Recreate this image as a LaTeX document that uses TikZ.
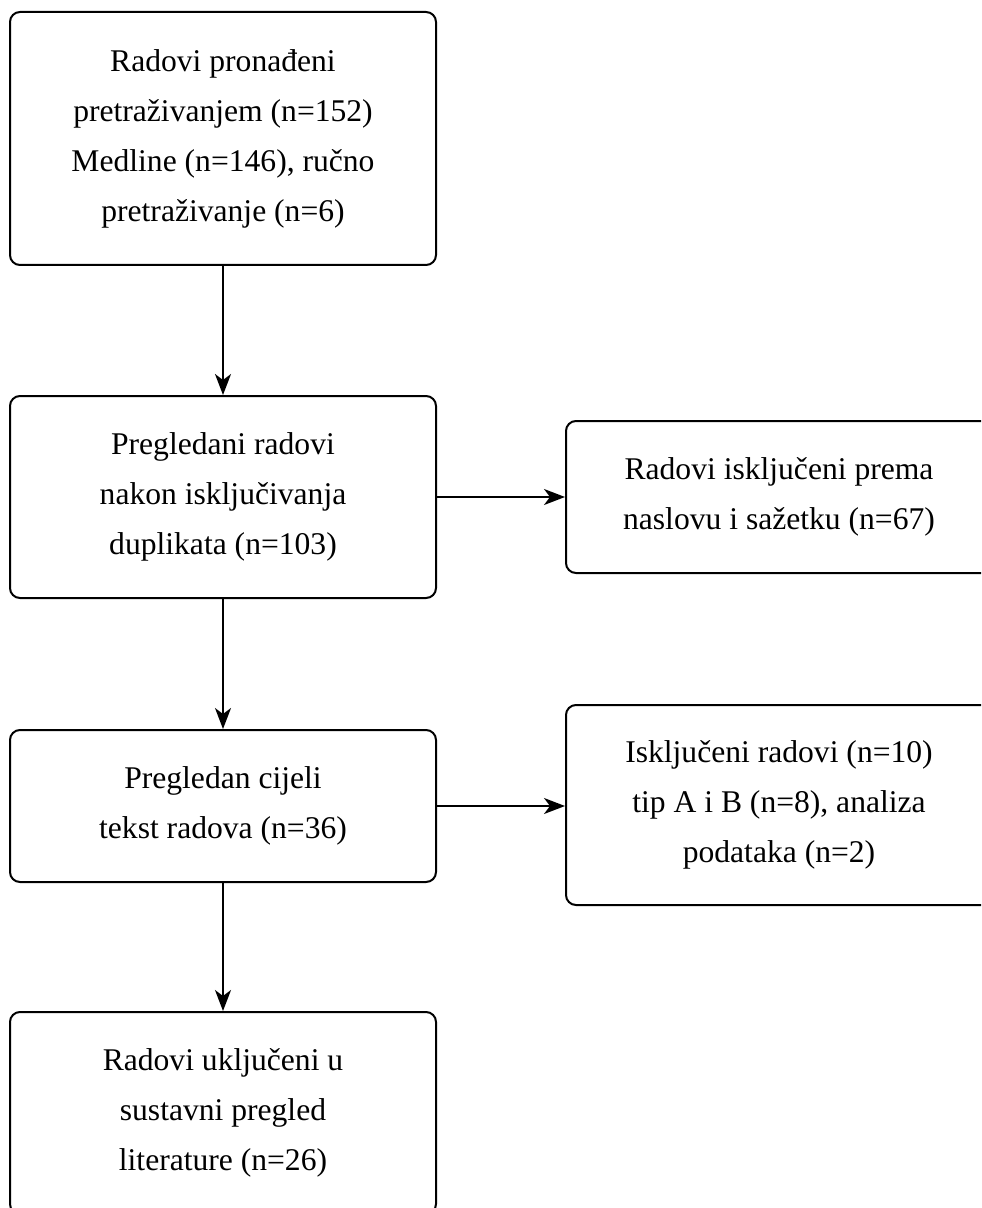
\documentclass[tikz,border=0pt]{standalone}
\usepackage{fontspec}
\setmainfont{Liberation Serif}
\usetikzlibrary{arrows.meta}
\begin{document}
\begin{tikzpicture}[x=0.5pt,y=-0.5pt,
  box/.style={draw, line width=1pt, rounded corners=5pt, align=center, inner sep=0pt,
    minimum width=213pt, font=\fontsize{15.8}{25}\selectfont},
  arr/.style={line width=1pt, -{Stealth[length=10.5pt,width=8pt,inset=3pt]}}]
\useasboundingbox (0,0) rectangle (981,1208);
\clip (0,0) rectangle (981,1208);
\node[box, minimum height=126.5pt] (b1) at (223,138.5) {Radovi pronađeni\\pretraživanjem (n=152)\\Medline (n=146), ručno\\pretraživanje (n=6)};
\node[box, minimum height=101pt] (b2) at (223,497) {Pregledani radovi\\nakon isključivanja\\duplikata (n=103)};
\node[box, minimum height=76pt] (b3) at (223,806) {Pregledan cijeli\\tekst radova (n=36)};
\node[box, minimum height=101pt] (b4) at (223,1113) {Radovi uključeni u\\sustavni pregled\\literature (n=26)};
\node[box, minimum height=76pt] (r1) at (779,497) {Radovi isključeni prema\\naslovu i sažetku (n=67)};
\node[box, minimum height=100pt] (r2) at (779,805) {Isključeni radovi (n=10)\\tip A i B (n=8), analiza\\podataka (n=2)};
\draw[arr] (b1) -- (b2);
\draw[arr] (b2) -- (b3);
\draw[arr] (b3) -- (b4);
\draw[arr] (b2) -- (r1);
\draw[arr] (b3.east) -- (r2.west|-b3.east);
\end{tikzpicture}
\end{document}
